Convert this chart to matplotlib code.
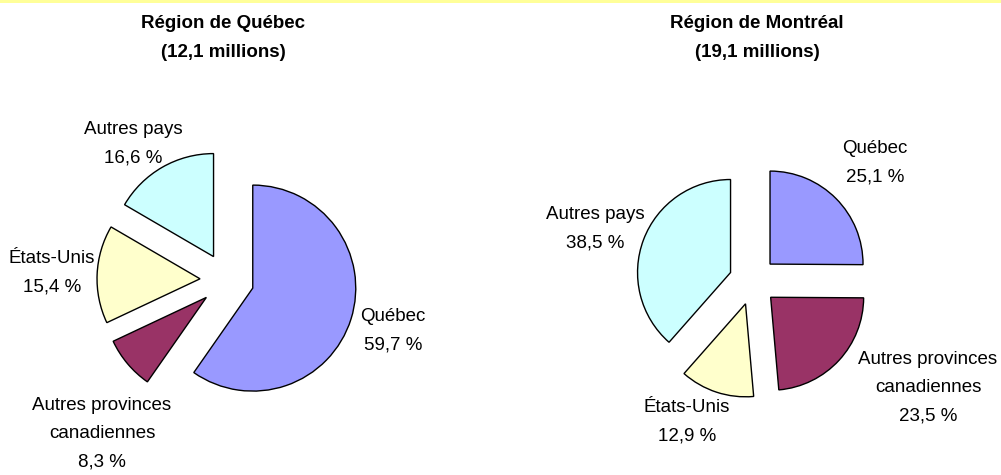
#!/usr/bin/env python3
# Two exploded pie charts: origin of tourists, Québec and Montréal regions.

import matplotlib
matplotlib.use("Agg")
import matplotlib.pyplot as plt
from matplotlib.patches import Rectangle

plt.rcParams["font.family"] = ["Liberation Sans", "DejaVu Sans"]

# Data
categories = ["Québec", "Autres provinces\ncanadiennes", "États-Unis", "Autres pays"]
colors = ["#9999FF", "#993366", "#FFFFCC", "#CCFFFF"]

quebec_title = "Région de Québec\n(12,1 millions)"
quebec_values = [59.7, 8.3, 15.4, 16.6]
quebec_labels = ["59,7 %", "8,3 %", "15,4 %", "16,6 %"]

montreal_title = "Région de Montréal\n(19,1 millions)"
montreal_values = [25.1, 23.5, 12.9, 38.5]
montreal_labels = ["25,1 %", "23,5 %", "12,9 %", "38,5 %"]

W, H = 1001, 475
fig = plt.figure(figsize=(W / 100, H / 100), dpi=100)
ax = fig.add_axes([0, 0, 1, 1])


def draw_pie(values, center, radius, offset):
    ax.pie(values, colors=colors, center=center, radius=radius,
           startangle=90, counterclock=False, explode=[offset] * len(values),
           wedgeprops=dict(edgecolor="black", linewidth=1.0))


draw_pie(quebec_values, (227, H - 280), 103, 27)
draw_pie(montreal_values, (753, H - 281), 93, 24)

ax.set_xlim(0, W)
ax.set_ylim(0, H)
ax.set_aspect("auto")
ax.axis("off")

# titles
title_kw = dict(ha="center", va="center", fontsize=13.5, fontweight="bold",
                linespacing=1.86)
ax.text(223, H - 38, quebec_title, **title_kw)
ax.text(757, H - 38, montreal_title, **title_kw)

# slice labels (placed by hand like the original)
lab_kw = dict(ha="center", va="center", fontsize=13.5, linespacing=1.86)
q_pos = [(393, 331), (102, 434), (52, 273), (133, 144)]
m_pos = [(875, 163), (928, 388), (687, 422), (595, 229)]
for cat, lab, (x, y) in zip(categories, quebec_labels, q_pos):
    ax.text(x, H - y, f"{cat}\n{lab}", **lab_kw)
for cat, lab, (x, y) in zip(categories, montreal_labels, m_pos):
    ax.text(x, H - y, f"{cat}\n{lab}", **lab_kw)

# pale yellow strip at the top edge
fig.patches.append(Rectangle((0, 1 - 2.5 / H), 1, 2.5 / H, transform=fig.transFigure,
                             facecolor="#FFFF99", edgecolor="none"))

fig.savefig("out.png", dpi=100)
